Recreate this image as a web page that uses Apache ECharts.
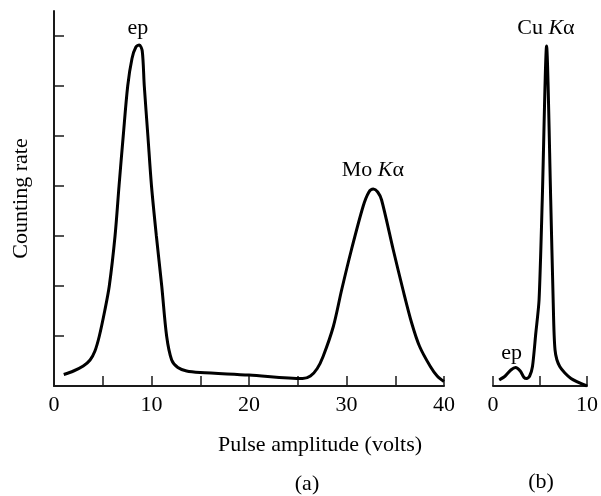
<!DOCTYPE html>
<html>
<head>
<meta charset="utf-8">
<script src="https://cdn.jsdelivr.net/npm/echarts@6/dist/echarts.min.js"></script>
<style>
  html, body { margin: 0; padding: 0; background: #fff; }
  #chart { width: 601px; height: 496px; }
</style>
</head>
<body>
<div id="chart"></div>
<script>
// Pulse-height distribution (a): Mo Kα with escape peak
const pulseA = [
  [1, 0.23], [2, 0.3], [3, 0.4], [3.7, 0.52], [4.2, 0.7], [4.65, 1.0], [5.2, 1.5],
  [5.67, 2.0], [6.26, 3.0], [6.67, 4.0], [7.1, 5.0], [7.56, 6.0], [8.0, 6.55],
  [8.4, 6.78], [8.75, 6.82], [9.05, 6.7], [9.26, 6.0], [9.63, 5.0], [10.0, 4.0],
  [10.5, 3.0], [11.05, 2.0], [11.55, 1.0], [12.07, 0.52], [12.7, 0.37], [13.6, 0.3],
  [15, 0.27], [20, 0.22], [25.5, 0.15], [26.3, 0.2], [27.0, 0.35], [27.6, 0.59],
  [28.65, 1.19], [29.5, 1.92], [30.5, 2.72], [31.7, 3.59], [32.3, 3.88], [32.75, 3.94],
  [33.2, 3.88], [33.6, 3.72], [34.8, 2.72], [35.8, 1.92], [36.7, 1.25], [37.5, 0.79],
  [38.6, 0.39], [39.3, 0.2], [40, 0.09]
];

// Pulse-height distribution (b): Cu Kα with escape peak
const pulseB = [
  [0.66, 0.12], [1.3, 0.2], [1.9, 0.32], [2.4, 0.37], [2.9, 0.3], [3.3, 0.17],
  [3.58, 0.15], [3.9, 0.2], [4.2, 0.39], [4.55, 1.05], [4.9, 1.72], [5.24, 3.72],
  [5.7, 6.8], [6.14, 3.72], [6.4, 1.72], [6.6, 0.72], [7.1, 0.39], [8.3, 0.15], [10, 0.0]
];

// Axis ticks and labels
const ticksA = [5, 10, 15, 20, 25, 30, 35, 40];
const labelsA = [0, 10, 20, 30, 40];
const ticksB = [0, 5, 10];
const labelsB = [0, 10];
const countTicks = [1, 2, 3, 4, 5, 6, 7];

// Peak annotations: [x, y, text]
const peaksA = [[8.6, 7.16, 'ep'], [32.7, 4.32, 'Mo {i|K}α']];
const peaksB = [[5.63, 7.16, 'Cu {i|K}α'], [1.98, 0.66, 'ep']];

const FONT = 'Liberation Serif';
const INK = '#000';
const AXIS = '#1a1a1a';

function peakMarks(list) {
  return {
    symbol: 'circle',
    symbolSize: 0,
    silent: true,
    label: {
      show: true,
      position: 'inside',
      fontFamily: FONT,
      fontSize: 22,
      color: INK,
      formatter: p => p.data.text,
      rich: { i: { fontStyle: 'italic', fontFamily: FONT, fontSize: 22, color: INK } }
    },
    data: list.map(d => ({ coord: [d[0], d[1]], text: d[2] }))
  };
}

function xAxisFor(gridIndex, max, ticks, labels) {
  return {
    type: 'value', gridIndex, min: 0, max,
    axisLine: { show: true, lineStyle: { color: AXIS, width: 2 } },
    axisTick: { show: true, inside: true, length: 10, customValues: ticks, lineStyle: { color: AXIS, width: 1.5 } },
    axisLabel: { show: true, customValues: labels, margin: 8, fontFamily: FONT, fontSize: 22, color: INK },
    splitLine: { show: false }
  };
}

const chart = echarts.init(document.getElementById('chart'), null, { renderer: 'canvas' });
chart.setOption({
  backgroundColor: '#fff',
  animation: false,
  grid: [
    { left: 54, right: 157, top: 11, bottom: 110 },
    { left: 493, right: 12, top: 11, bottom: 110 }
  ],
  xAxis: [
    xAxisFor(0, 40, ticksA, labelsA),
    xAxisFor(1, 10, ticksB, labelsB)
  ],
  yAxis: [
    {
      type: 'value', gridIndex: 0, min: 0, max: 7.5,
      name: 'Counting rate', nameLocation: 'middle', nameGap: 22,
      nameTextStyle: { fontFamily: FONT, fontSize: 22, color: INK },
      axisLine: { show: true, lineStyle: { color: AXIS, width: 2 } },
      axisTick: { show: true, inside: true, length: 10, customValues: countTicks, lineStyle: { color: AXIS, width: 1.5 } },
      axisLabel: { show: false },
      splitLine: { show: false }
    },
    {
      type: 'value', gridIndex: 1, min: 0, max: 7.5, show: false,
      splitLine: { show: false }
    }
  ],
  series: [
    {
      type: 'line', xAxisIndex: 0, yAxisIndex: 0, data: pulseA,
      smooth: 0.3, symbol: 'none',
      lineStyle: { color: INK, width: 3 },
      markPoint: peakMarks(peaksA)
    },
    {
      type: 'line', xAxisIndex: 1, yAxisIndex: 1, data: pulseB,
      smooth: 0.25, symbol: 'none',
      lineStyle: { color: INK, width: 3 },
      markPoint: peakMarks(peaksB)
    }
  ],
  graphic: [
    { type: 'text', x: 320, y: 445, style: { text: 'Pulse amplitude (volts)', font: '22px "Liberation Serif"', fill: INK, textAlign: 'center', textVerticalAlign: 'middle' } },
    { type: 'text', x: 307, y: 484, style: { text: '(a)', font: '22px "Liberation Serif"', fill: INK, textAlign: 'center', textVerticalAlign: 'middle' } },
    { type: 'text', x: 541, y: 482, style: { text: '(b)', font: '22px "Liberation Serif"', fill: INK, textAlign: 'center', textVerticalAlign: 'middle' } }
  ]
});
</script>
</body>
</html>
